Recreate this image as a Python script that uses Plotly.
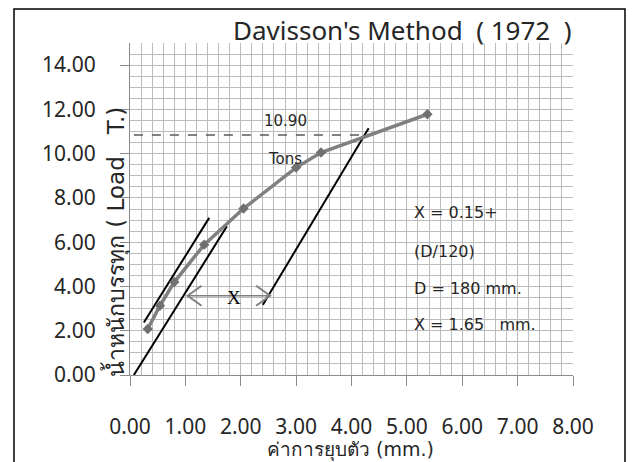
import plotly.graph_objects as go

# ---- data ----
settle = [0.32, 0.54, 0.80, 1.34, 2.05, 3.00, 3.45, 5.37]
load = [2.08, 3.13, 4.20, 5.89, 7.52, 9.37, 10.05, 11.78]

lineA_x = [0.25, 1.43]
lineA_y = [2.37, 7.10]
lineB_x = [0.07, 1.75]
lineB_y = [0.0, 6.72]
lineC_x = [2.40, 4.31]
lineC_y = [3.17, 11.15]

fail_load = 10.84
fail_x_end = 4.21

arrow_x = [1.04, 2.53]
arrow_y = 3.58

x_ticks = [0, 1, 2, 3, 4, 5, 6, 7, 8]
y_ticks = [0, 2, 4, 6, 8, 10, 12, 14]

title_text = "Davisson's Method  ( 1972  )"
x_title = "ค่าการยุบตัว (mm.)"
y_title = "น้ำหนักบรรทุก ( Load   T.)"
notes = ["X = 0.15+", "(D/120)", "D = 180 mm.", "X = 1.65   mm."]
notes_y = [7.33, 5.59, 3.93, 2.27]
notes_x = 5.09

FONT = "DejaVu Sans, Noto Sans, sans-serif"
TFONT = "Noto Sans, DejaVu Sans, sans-serif"
TXT = "#262626"

fig = go.Figure()

fig.add_trace(go.Scatter(x=[0.07, fail_x_end], y=[fail_load, fail_load], mode="lines",
                         line=dict(color="#595959", width=1.6, dash="dash"), hoverinfo="skip"))

for lx, ly in [(lineA_x, lineA_y), (lineB_x, lineB_y), (lineC_x, lineC_y)]:
    fig.add_trace(go.Scatter(x=lx, y=ly, mode="lines",
                             line=dict(color="black", width=2), hoverinfo="skip"))

fig.add_trace(go.Scatter(x=settle, y=load, mode="lines+markers",
                         line=dict(color="#808080", width=3.5),
                         marker=dict(symbol="diamond", size=8, color="#707070")))

fig.add_trace(go.Scatter(x=arrow_x, y=[arrow_y, arrow_y], mode="lines",
                         line=dict(color="#808080", width=1.5), hoverinfo="skip"))
px_x = 8 / 443.0
px_y = 15 / 332.0
hw, hh = 14 * px_x, 10 * px_y
fig.add_trace(go.Scatter(x=[arrow_x[0] + hw, arrow_x[0], arrow_x[0] + hw],
                         y=[arrow_y + hh, arrow_y, arrow_y - hh], mode="lines",
                         line=dict(color="#808080", width=2), hoverinfo="skip"))
fig.add_trace(go.Scatter(x=[arrow_x[1] - hw, arrow_x[1], arrow_x[1] - hw],
                         y=[arrow_y + hh, arrow_y, arrow_y - hh], mode="lines",
                         line=dict(color="#808080", width=2), hoverinfo="skip"))

annotations = [
    dict(x=(arrow_x[0] + arrow_x[1]) / 2 + 0.1, y=arrow_y - 0.08, text="X", showarrow=False,
         font=dict(family="Liberation Serif, serif", size=19, color="black")),
    dict(x=2.80, y=11.49, text="10.90", showarrow=False, font=dict(family=FONT, size=15, color=TXT)),
    dict(x=2.79, y=9.76, text="Tons", showarrow=False, font=dict(family=FONT, size=15, color=TXT)),
    dict(x=(402 - 130) / 443, y=(375 - 30) / 332, xref="paper", yref="paper",
         xanchor="center", yanchor="middle",
         text=title_text, showarrow=False,
         font=dict(family=TFONT, size=26, color=TXT)),
    dict(x=(350 - 130) / 443, y=0, xref="paper", yref="paper", yanchor="middle", xanchor="center",
         text=x_title, showarrow=False, yshift=-75,
         font=dict(family=FONT, size=19, color=TXT)),
    dict(x=(115 - 130) / 443, y=(375 - 242) / 332, xref="paper", yref="paper",
         xanchor="center", yanchor="middle",
         text=y_title, showarrow=False, textangle=-90,
         font=dict(family=FONT, size=23, color=TXT)),
]
for t, ty in zip(notes, notes_y):
    annotations.append(dict(x=notes_x, y=ty, text=t, showarrow=False, xanchor="left",
                            font=dict(family=FONT, size=16, color=TXT)))

# page body adds an 8px offset; margins compensate so the plot lands where the reference has it
fig.update_layout(
    width=635, height=462,
    margin=dict(l=122, r=70, t=35, b=95, autoexpand=False),
    paper_bgcolor="white", plot_bgcolor="white",
    showlegend=False,
    annotations=annotations,
    shapes=[dict(type="rect", xref="paper", yref="paper",
                 x0=(14 - 130) / 443, x1=(625 - 130) / 443,
                 y0=-0.5, y1=(375 - 9) / 332,
                 line=dict(color="black", width=1.5), layer="below")],
)

fig.update_xaxes(range=[0, 8], tickvals=x_ticks, ticktext=[f"{v:.2f}" for v in x_ticks],
                 showgrid=True, gridcolor="#bcbcbc", gridwidth=1,
                 minor=dict(dtick=0.2, showgrid=True, gridcolor="#bcbcbc", gridwidth=1),
                 ticks="outside", ticklen=10, tickcolor="#8c8c8c",
                 showline=True, linecolor="#8c8c8c", linewidth=1.2,
                 zeroline=False, ticklabelstandoff=23, automargin=False,
                 tickfont=dict(family=TFONT, size=21, color=TXT))
fig.update_yaxes(range=[0, 15], tickvals=y_ticks, ticktext=[f"{v:.2f}" for v in y_ticks],
                 showgrid=True, gridcolor="#bcbcbc", gridwidth=1,
                 minor=dict(dtick=0.5, showgrid=True, gridcolor="#bcbcbc", gridwidth=1),
                 ticks="outside", ticklen=9, tickcolor="#8c8c8c",
                 showline=True, linecolor="#8c8c8c", linewidth=1.2,
                 zeroline=False, ticklabelstandoff=20, automargin=False,
                 tickfont=dict(family=TFONT, size=21, color=TXT))

fig.write_html("out.html")
